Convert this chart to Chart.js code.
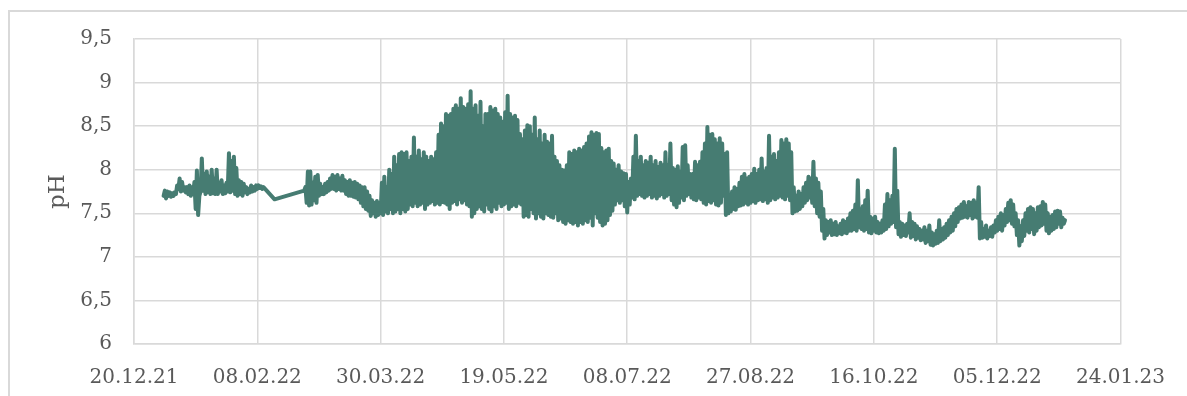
<!DOCTYPE html>
<html>
<head>
<meta charset="utf-8">
<script src="https://cdn.jsdelivr.net/npm/chart.js@4.4.0/dist/chart.umd.min.js"></script>
<style>
  body { margin: 0; background: #fff; overflow: hidden; }
  #frame {
    position: absolute; left: 8px; top: 10px; width: 1300px; height: 500px;
    border-left: 2px solid #d9d9d9; border-top: 2px solid #d9d9d9;
  }
  #phChart { position: absolute; left: 0; top: 0; }
</style>
</head>
<body>
<div id="frame"></div>
<canvas id="phChart" width="1187" height="396"></canvas>
<script>
// x values are days since 20.12.21, ticks every 50 days
var xTickLabels = ['20.12.21', '08.02.22', '30.03.22', '19.05.22', '08.07.22',
  '27.08.22', '16.10.22', '05.12.22', '24.01.23'];
var yTickLabels = ['6', '6,5', '7', '7,5', '8', '8,5', '9', '9,5'];

// first run of readings (daily low / high), starting day 12
var seg1Start = 12;
var seg1Lo = [7.70, 7.67, 7.70, 7.69, 7.70, 7.72, 7.78, 7.75, 7.76, 7.74,
  7.72, 7.70, 7.72, 7.55, 7.48, 7.75, 7.76, 7.72, 7.74, 7.72,
  7.73, 7.72, 7.72, 7.75, 7.72, 7.73, 7.75, 7.74, 7.76, 7.72,
  7.70, 7.72, 7.70, 7.74, 7.72, 7.74, 7.75, 7.76, 7.78, 7.79,
  7.78];
var seg1Hi = [7.76, 7.75, 7.74, 7.73, 7.74, 7.82, 7.90, 7.86, 7.80, 7.80,
  7.82, 7.80, 7.86, 7.99, 7.70, 8.13, 7.95, 7.98, 7.92, 8.00,
  7.90, 8.00, 7.85, 7.88, 7.82, 7.85, 8.19, 8.10, 8.15, 8.02,
  7.88, 7.86, 7.84, 7.80, 7.78, 7.82, 7.80, 7.82, 7.82, 7.81,
  7.80];

// single reading inside the gap
var gapDay = 57;
var gapValue = 7.66;

// second run of readings, starting day 69
var seg2Start = 69;
var seg2Lo = [7.76, 7.62, 7.59, 7.60, 7.65, 7.62, 7.70, 7.72, 7.72, 7.74,
  7.76, 7.78, 7.78, 7.76, 7.78, 7.76, 7.76, 7.72, 7.70, 7.70,
  7.69, 7.68, 7.66, 7.62, 7.58, 7.55, 7.53, 7.47, 7.50, 7.46,
  7.48, 7.50, 7.48, 7.52, 7.50, 7.55, 7.50, 7.52, 7.55, 7.50,
  7.55, 7.52, 7.55, 7.60, 7.58, 7.62, 7.58, 7.60, 7.62, 7.55,
  7.60, 7.62, 7.64, 7.60, 7.62, 7.60, 7.63, 7.62, 7.60, 7.55,
  7.62, 7.64, 7.60, 7.66, 7.62, 7.65, 7.60, 7.58, 7.46, 7.50,
  7.55, 7.58, 7.55, 7.52, 7.60, 7.55, 7.52, 7.58, 7.55, 7.62,
  7.58, 7.60, 7.62, 7.55, 7.58, 7.60, 7.58, 7.62, 7.60, 7.46,
  7.48, 7.46, 7.55, 7.50, 7.44, 7.50, 7.46, 7.44, 7.50, 7.48,
  7.46, 7.45, 7.50, 7.42, 7.44, 7.40, 7.38, 7.42, 7.40, 7.38,
  7.40, 7.36, 7.40, 7.38, 7.42, 7.40, 7.45, 7.36, 7.50, 7.45,
  7.40, 7.36, 7.38, 7.42, 7.48, 7.53, 7.60, 7.65, 7.62, 7.65,
  7.58, 7.51, 7.60, 7.68, 7.66, 7.70, 7.72, 7.70, 7.68, 7.70,
  7.72, 7.68, 7.70, 7.67, 7.70, 7.72, 7.68, 7.70, 7.72, 7.65,
  7.60, 7.57, 7.62, 7.68, 7.65, 7.70, 7.72, 7.68, 7.66, 7.65,
  7.68, 7.66, 7.62, 7.60, 7.64, 7.62, 7.65, 7.60, 7.59, 7.62,
  7.70, 7.48, 7.50, 7.52, 7.55, 7.54, 7.58, 7.59, 7.60, 7.62,
  7.60, 7.62, 7.64, 7.62, 7.65, 7.66, 7.64, 7.66, 7.62, 7.65,
  7.68, 7.66, 7.68, 7.70, 7.68, 7.66, 7.70, 7.65, 7.50, 7.52,
  7.53, 7.55, 7.58, 7.62, 7.65, 7.68, 7.62, 7.58, 7.50, 7.46,
  7.30, 7.21, 7.25, 7.28, 7.25, 7.26, 7.25, 7.27, 7.26, 7.28,
  7.27, 7.30, 7.30, 7.32, 7.30, 7.34, 7.32, 7.30, 7.32, 7.28,
  7.27, 7.30, 7.28, 7.27, 7.28, 7.30, 7.32, 7.35, 7.38, 7.40,
  7.34, 7.26, 7.23, 7.25, 7.24, 7.28, 7.22, 7.24, 7.20, 7.22,
  7.19, 7.20, 7.16, 7.18, 7.14, 7.13, 7.15, 7.16, 7.18, 7.20,
  7.22, 7.25, 7.28, 7.30, 7.35, 7.40, 7.44, 7.45, 7.46, 7.45,
  7.48, 7.44, 7.46, 7.45, 7.21, 7.22, 7.23, 7.21, 7.24, 7.23,
  7.28, 7.30, 7.32, 7.30, 7.36, 7.40, 7.42, 7.38, 7.35, 7.25,
  7.13, 7.18, 7.24, 7.30, 7.28, 7.32, 7.26, 7.30, 7.34, 7.36,
  7.38, 7.30, 7.27, 7.30, 7.32, 7.34, 7.38, 7.34, 7.38];
var seg2Hi = [7.80, 7.98, 7.98, 7.85, 7.92, 7.94, 7.84, 7.80, 7.84, 7.86,
  7.90, 7.94, 7.92, 7.94, 7.90, 7.93, 7.88, 7.86, 7.88, 7.85,
  7.86, 7.84, 7.82, 7.80, 7.80, 7.75, 7.70, 7.65, 7.62, 7.64,
  7.62, 7.85, 7.92, 7.80, 8.00, 7.95, 8.15, 8.05, 8.18, 8.20,
  8.18, 8.20, 8.10, 8.15, 8.37, 8.15, 8.22, 8.12, 8.20, 8.15,
  8.10, 8.15, 8.12, 8.20, 8.40, 8.53, 8.50, 8.64, 8.62, 8.64,
  8.70, 8.74, 8.70, 8.82, 8.72, 8.70, 8.75, 8.90, 8.70, 8.74,
  8.62, 8.78, 8.50, 8.64, 8.64, 8.72, 8.68, 8.70, 8.64, 8.60,
  8.55, 8.66, 8.85, 8.64, 8.60, 8.62, 8.57, 8.41, 8.35, 8.45,
  8.51, 8.50, 8.40, 8.60, 8.35, 8.45, 8.30, 8.40, 8.32, 8.30,
  8.39, 8.15, 8.10, 8.05, 8.00, 7.99, 8.05, 8.20, 8.18, 8.22,
  8.20, 8.24, 8.22, 8.26, 8.30, 8.38, 8.43, 8.40, 8.42, 8.41,
  8.25, 8.20, 8.22, 8.24, 8.10, 8.07, 8.00, 8.05, 7.98, 7.96,
  7.95, 7.86, 7.90, 8.15, 8.39, 8.10, 8.15, 8.05, 8.10, 8.08,
  8.15, 8.05, 8.10, 8.03, 8.08, 8.05, 8.20, 8.05, 8.30, 8.02,
  8.00, 8.04, 7.98, 8.26, 8.28, 8.05, 7.95, 7.95, 8.09, 8.05,
  8.09, 8.20, 8.30, 8.49, 8.40, 8.41, 8.35, 8.30, 8.36, 8.30,
  8.18, 8.20, 7.70, 7.75, 7.80, 7.78, 7.85, 7.92, 7.95, 7.90,
  7.92, 7.95, 8.01, 7.95, 8.00, 8.13, 7.98, 8.02, 8.39, 8.15,
  8.18, 8.10, 8.20, 8.34, 8.30, 8.35, 8.30, 8.20, 7.80, 7.70,
  7.75, 7.72, 7.80, 7.85, 7.92, 7.90, 8.09, 7.90, 7.85, 7.75,
  7.55, 7.42, 7.40, 7.42, 7.38, 7.40, 7.35, 7.38, 7.42, 7.40,
  7.44, 7.50, 7.53, 7.60, 7.88, 7.55, 7.58, 7.65, 7.76, 7.46,
  7.44, 7.46, 7.40, 7.38, 7.42, 7.60, 7.72, 7.65, 7.70, 8.24,
  7.76, 7.40, 7.38, 7.36, 7.38, 7.50, 7.40, 7.38, 7.35, 7.32,
  7.30, 7.34, 7.30, 7.36, 7.28, 7.26, 7.30, 7.42, 7.32, 7.34,
  7.38, 7.42, 7.46, 7.50, 7.55, 7.57, 7.60, 7.63, 7.58, 7.63,
  7.62, 7.65, 7.62, 7.80, 7.40, 7.32, 7.36, 7.30, 7.34, 7.36,
  7.42, 7.46, 7.50, 7.48, 7.55, 7.62, 7.65, 7.60, 7.50, 7.42,
  7.35, 7.42, 7.50, 7.55, 7.57, 7.55, 7.50, 7.57, 7.58, 7.63,
  7.60, 7.50, 7.46, 7.48, 7.52, 7.53, 7.52, 7.45, 7.42];

// each day gives its low and then its high half a day later
function dayPoints(start, lows, highs) {
  var pts = [];
  lows.forEach(function (lo, i) {
    pts.push({ x: start + i, y: lo });
    pts.push({ x: start + i + 0.5, y: highs[i] });
  });
  return pts;
}

var phPoints = dayPoints(seg1Start, seg1Lo, seg1Hi)
  .concat([{ x: gapDay, y: gapValue }])
  .concat(dayPoints(seg2Start, seg2Lo, seg2Hi));

var textColor = '#595959';
var gridColor = '#d9d9d9';
var fontFamily = "'DejaVu Serif', 'Liberation Serif', serif";

new Chart(document.getElementById('phChart').getContext('2d'), {
  type: 'line',
  data: {
    datasets: [{
      label: 'pH',
      data: phPoints,
      borderColor: '#467c72',
      borderWidth: 4,
      borderCapStyle: 'round',
      borderJoinStyle: 'round',
      pointRadius: 0,
      tension: 0,
      fill: false
    }]
  },
  options: {
    responsive: false,
    animation: false,
    devicePixelRatio: 1,
    parsing: false,
    layout: { padding: { top: 39, right: 63, left: 0, bottom: 0 } },
    plugins: {
      legend: { display: false },
      tooltip: { enabled: false }
    },
    scales: {
      x: {
        type: 'linear',
        min: 0,
        max: 400,
        afterFit: function (scale) { scale.height = 52; },
        afterBuildTicks: function (scale) {
          scale.ticks = xTickLabels.map(function (t, i) { return { value: i * 50 }; });
        },
        ticks: {
          autoSkip: false,
          maxRotation: 0,
          padding: 22,
          color: textColor,
          font: { family: fontFamily, size: 20 },
          callback: function (value) { return xTickLabels[Math.round(value / 50)]; }
        },
        grid: { color: gridColor, lineWidth: 1.5, drawTicks: false },
        border: { color: gridColor, width: 1.5 }
      },
      y: {
        min: 6,
        max: 9.5,
        afterFit: function (scale) { scale.width = 134; },
        afterBuildTicks: function (scale) {
          scale.ticks = yTickLabels.map(function (t, i) { return { value: 6 + i * 0.5 }; });
        },
        ticks: {
          padding: 22,
          color: textColor,
          font: { family: fontFamily, size: 20 },
          callback: function (value) { return yTickLabels[Math.round((value - 6) / 0.5)]; }
        },
        title: {
          display: true,
          text: 'pH',
          color: textColor,
          font: { family: fontFamily, size: 23 },
          padding: { top: 44, bottom: 0 }
        },
        grid: { color: gridColor, lineWidth: 1.5, drawTicks: false },
        border: { color: gridColor, width: 1.5 }
      }
    }
  }
});
</script>
</body>
</html>
